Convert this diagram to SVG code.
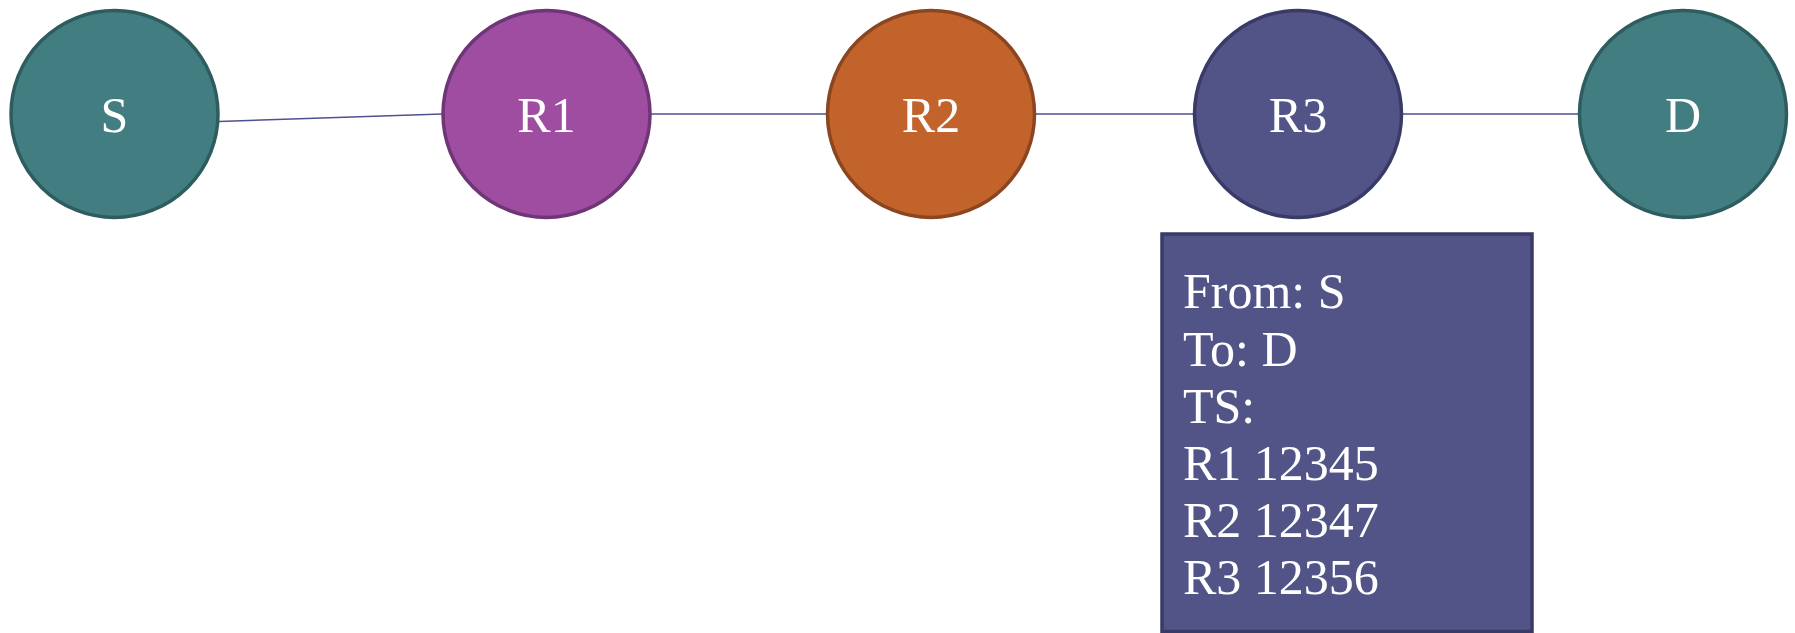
<svg xmlns="http://www.w3.org/2000/svg" width="1795" height="633" viewBox="0 0 1795 633">
  <style>
    .label { font-family: "Liberation Serif", "DejaVu Serif", serif; font-size: 50px; fill: #ffffff; }
    .node-label { text-anchor: middle; }
    .link { stroke: #4f5190; stroke-width: 1.6; fill: none; }
    .teal { fill: #427e81; stroke: #2e5d5f; stroke-width: 3.5; }
    .purple { fill: #9e4da0; stroke: #6e3577; stroke-width: 3.5; }
    .orange { fill: #c2632c; stroke: #8b4520; stroke-width: 3.5; }
    .indigo { fill: #525488; stroke: #393a66; stroke-width: 3.5; }
  </style>
  <rect width="1795" height="633" fill="#ffffff"/>

  <!-- links between hops -->
  <g id="connectors">
    <line class="link" x1="219" y1="121.5" x2="442" y2="114"/>
    <line class="link" x1="651" y1="114" x2="827" y2="114"/>
    <line class="link" x1="1035" y1="114" x2="1194" y2="114"/>
    <line class="link" x1="1402" y1="114" x2="1579" y2="114"/>
  </g>

  <g id="node-S">
    <circle class="teal" cx="114.5" cy="114" r="103.5"/>
    <text class="label node-label" x="114.5" y="132">S</text>
  </g>
  <g id="node-R1">
    <circle class="purple" cx="546.5" cy="114" r="103.5"/>
    <text class="label node-label" x="546.5" y="132">R1</text>
  </g>
  <g id="node-R2">
    <circle class="orange" cx="931" cy="114" r="103.5"/>
    <text class="label node-label" x="931" y="132">R2</text>
  </g>
  <g id="node-R3">
    <circle class="indigo" cx="1298" cy="114" r="103.5"/>
    <text class="label node-label" x="1298" y="132">R3</text>
  </g>
  <g id="node-D">
    <circle class="teal" cx="1683" cy="114" r="103.5"/>
    <text class="label node-label" x="1683" y="132">D</text>
  </g>

  <!-- packet header carried at R3 -->
  <g id="packet">
    <rect class="indigo" x="1162" y="234" width="370" height="397.5"/>
    <text class="label" x="1183" y="308">From: S</text>
    <text class="label" x="1183" y="365.5">To: D</text>
    <text class="label" x="1183" y="422.5">TS:</text>
    <text class="label" x="1183" y="480">R1 12345</text>
    <text class="label" x="1183" y="537">R2 12347</text>
    <text class="label" x="1183" y="594">R3 12356</text>
  </g>
</svg>
